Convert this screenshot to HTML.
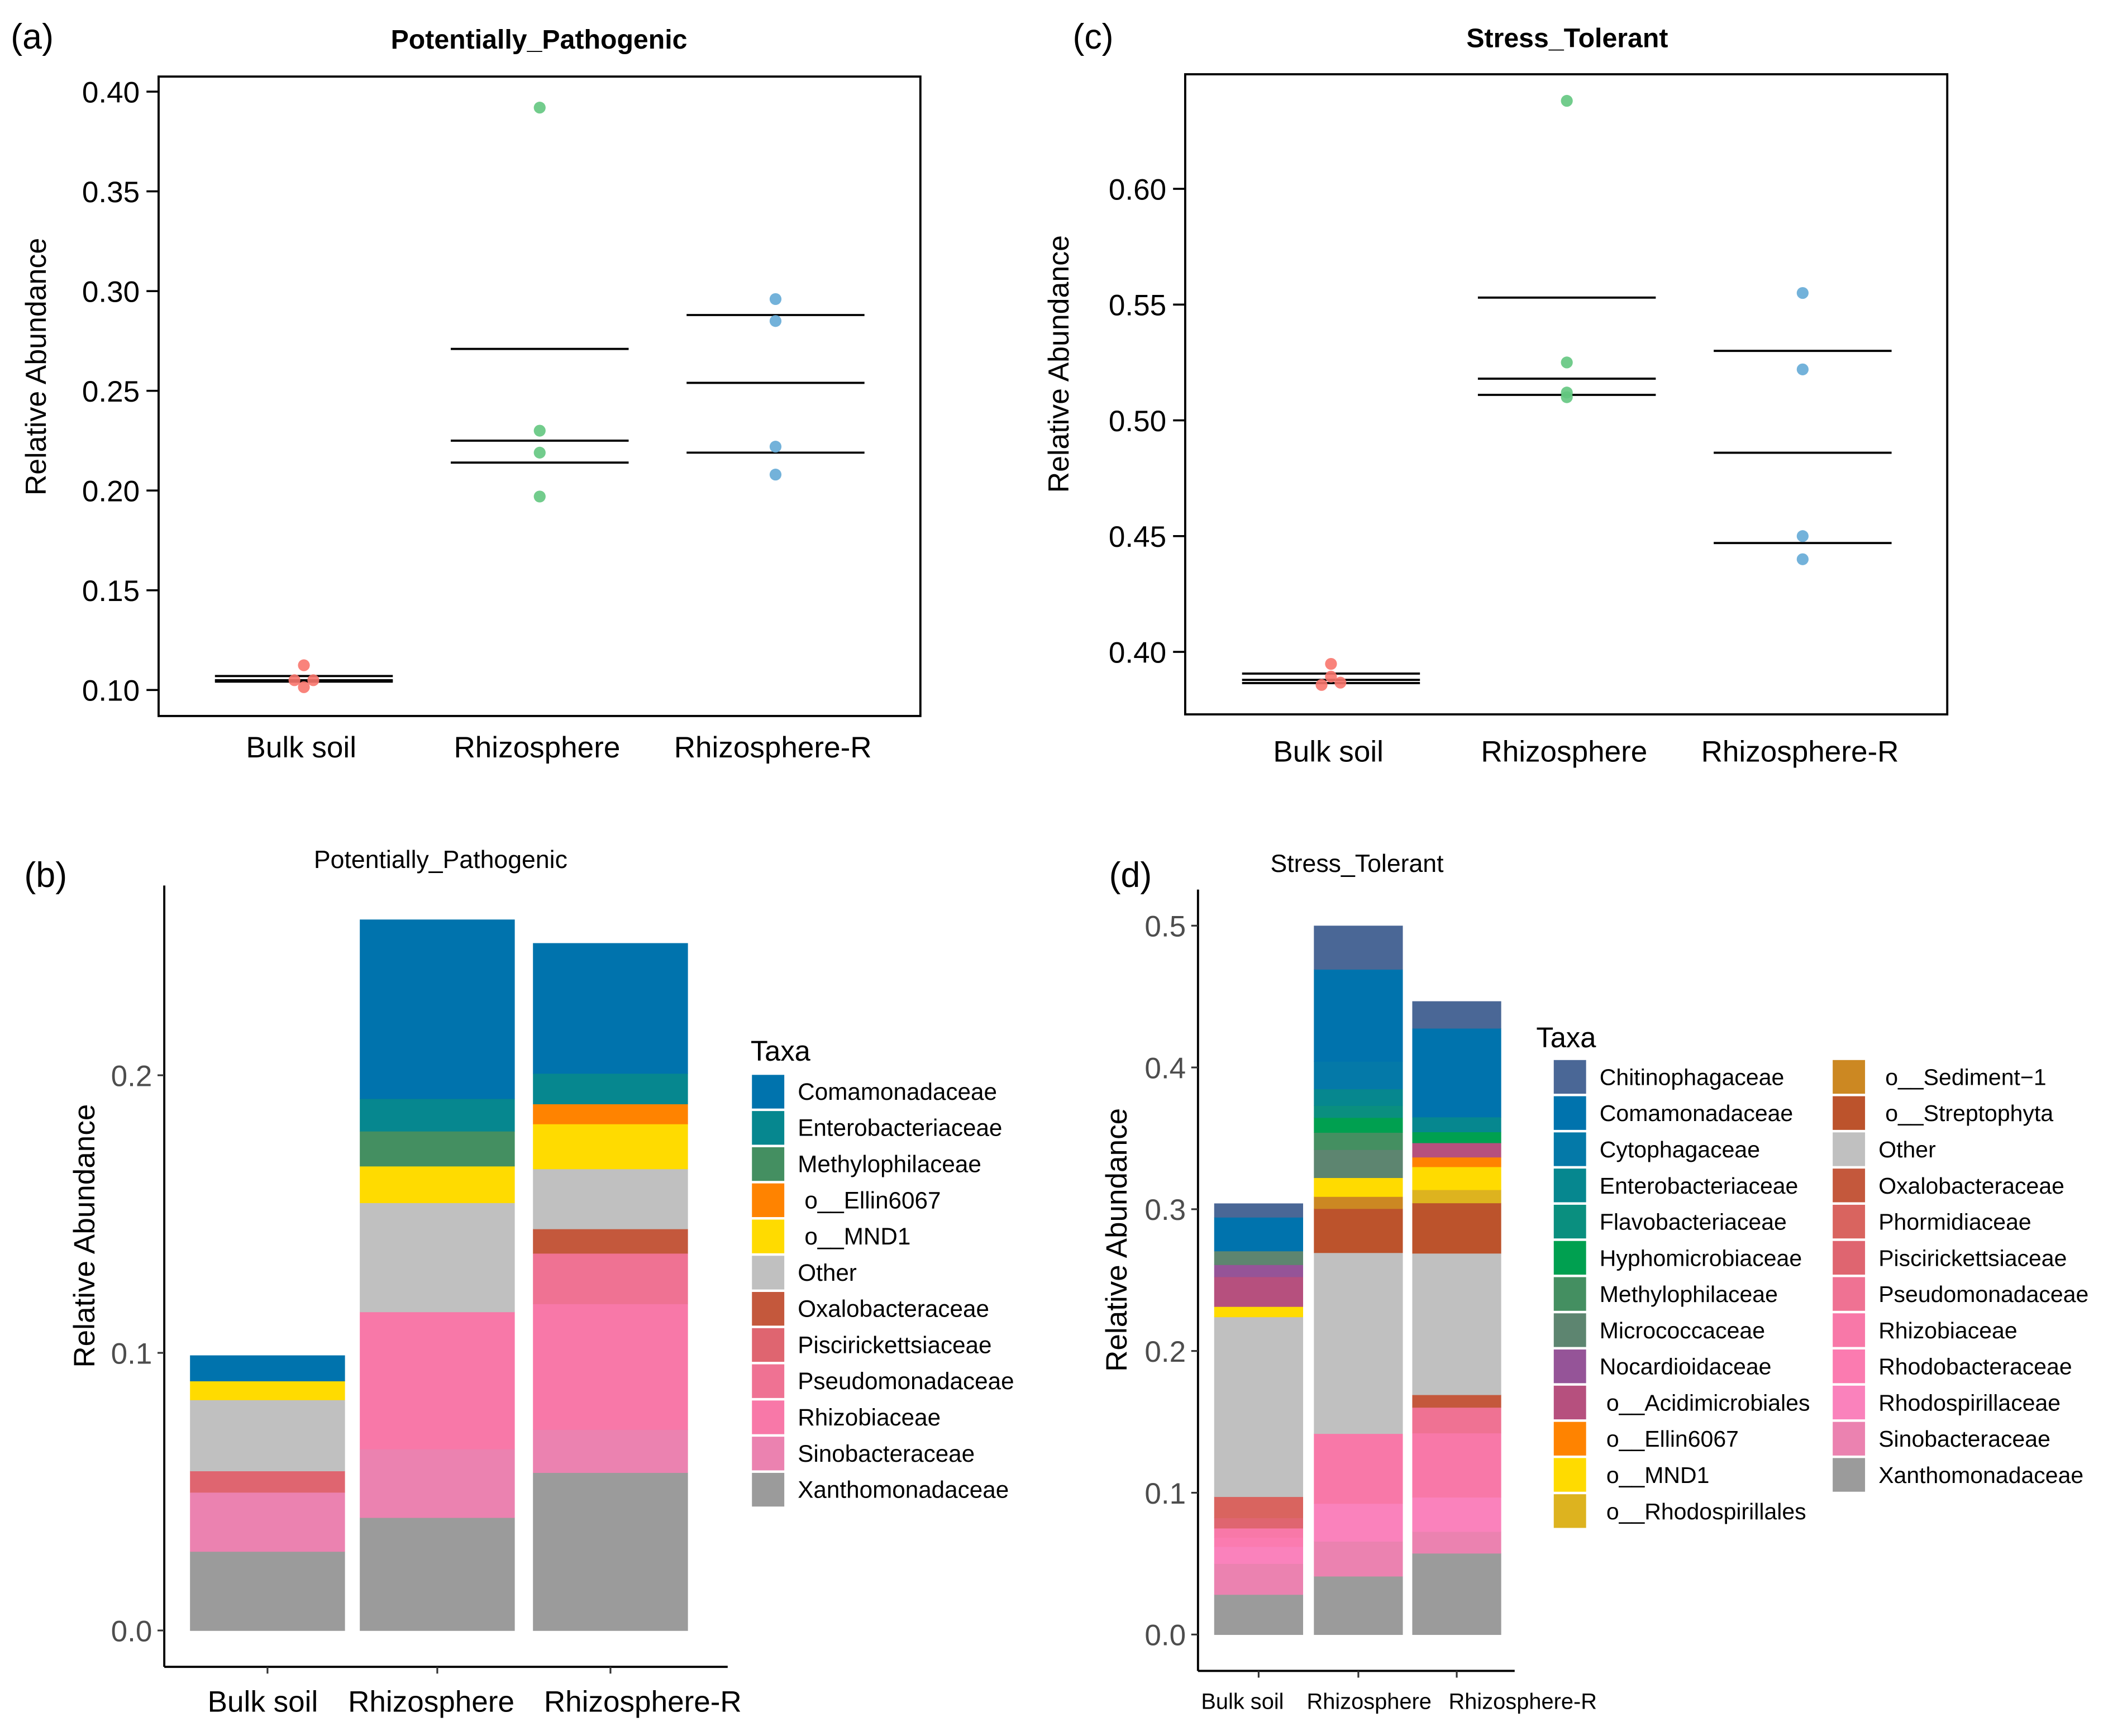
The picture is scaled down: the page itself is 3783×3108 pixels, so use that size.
<!DOCTYPE html>
<html><head><meta charset="utf-8"><style>
html,body{margin:0;padding:0;background:#fff}
svg{display:block}
text{font-family:"Liberation Sans",Arial,sans-serif}
</style></head><body>
<svg id="fig" width="3783" height="3108" viewBox="0 0 1568 1288" xmlns="http://www.w3.org/2000/svg">
<rect width="1568" height="1288" fill="#fff"/>
</svg>
<script>
// ---------- DATA ----------
const groups = ["Bulk soil", "Rhizosphere", "Rhizosphere-R"];
// Panel (a) Potentially_Pathogenic
const aTicks = [0.10, 0.15, 0.20, 0.25, 0.30, 0.35, 0.40];
const aTickLabels = ["0.10","0.15","0.20","0.25","0.30","0.35","0.40"];
const aBulkPts = [0.1124, 0.1049, 0.1049, 0.1014];
const aRhizoPts = [0.392, 0.230, 0.219, 0.197];
const aRhizoRPts = [0.296, 0.285, 0.222, 0.208];
const aBulkLines = [0.107, 0.1049, 0.1042];
const aRhizoLines = [0.271, 0.225, 0.214];
const aRhizoRLines = [0.288, 0.254, 0.219];
// Panel (c) Stress_Tolerant
const cTicks = [0.40, 0.45, 0.50, 0.55, 0.60];
const cTickLabels = ["0.40","0.45","0.50","0.55","0.60"];
const cBulkPts = [0.3948, 0.3893, 0.3857, 0.3867];
const cRhizoPts = [0.638, 0.525, 0.512, 0.510];
const cRhizoRPts = [0.555, 0.522, 0.450, 0.440];
const cBulkLines = [0.3906, 0.3879, 0.3865];
const cRhizoLines = [0.553, 0.518, 0.511];
const cRhizoRLines = [0.530, 0.486, 0.447];
// Panel (b) taxa (legend order) and values per group
const bTaxa = ["Comamonadaceae","Enterobacteriaceae","Methylophilaceae","o__Ellin6067","o__MND1","Other","Oxalobacteraceae","Piscirickettsiaceae","Pseudomonadaceae","Rhizobiaceae","Sinobacteraceae","Xanthomonadaceae"];
const bBulk =   [0.0092,0,0,0,0.0068,0.0256,0,0.0077,0,0,0.0213,0.0285];
const bRhizo =  [0.0645,0.0117,0.0126,0,0.0132,0.0393,0,0,0,0.0494,0.0247,0.0407];
const bRhizoR = [0.0469,0.011,0,0.0072,0.0162,0.0216,0.0088,0,0.0182,0.0453,0.0155,0.0569];
const bTicks = [0.0, 0.1, 0.2];
const bTickLabels = ["0.0","0.1","0.2"];
// Panel (d)
const dTaxa = ["Chitinophagaceae","Comamonadaceae","Cytophagaceae","Enterobacteriaceae","Flavobacteriaceae","Hyphomicrobiaceae","Methylophilaceae","Micrococcaceae","Nocardioidaceae","o__Acidimicrobiales","o__Ellin6067","o__MND1","o__Rhodospirillales","o__Sediment\u22121","o__Streptophyta","Other","Oxalobacteraceae","Phormidiaceae","Piscirickettsiaceae","Pseudomonadaceae","Rhizobiaceae","Rhodobacteraceae","Rhodospirillaceae","Sinobacteraceae","Xanthomonadaceae"];
const dBulk =   [0.0097,0.0238,0,0,0,0,0,0.0097,0.0085,0.021,0,0.0073,0,0,0,0.1268,0,0.0149,0.0073,0,0.0065,0.0065,0.012,0.0218,0.0283];
const dRhizo =  [0.0307,0.065,0.0194,0.0117,0.0085,0.0105,0.0121,0.0198,0,0,0,0.0133,0,0.0085,0.0311,0.1276,0,0,0,0,0.0493,0,0.0267,0.0246,0.0412];
const dRhizoR = [0.019,0.0626,0,0.0105,0,0.0077,0,0,0,0.0101,0.0068,0.0162,0.0093,0,0.0355,0.0998,0.0089,0,0,0.0181,0.0453,0,0.0242,0.0153,0.0574];
const dTicks = [0.0,0.1,0.2,0.3,0.4,0.5];
const dTickLabels = ["0.0","0.1","0.2","0.3","0.4","0.5"];

// ---------- STYLE ----------
const colorMap = {
 "Chitinophagaceae":"#4a6796","Comamonadaceae":"#0073ad","Cytophagaceae":"#0479a8","Enterobacteriaceae":"#06878f",
 "Flavobacteriaceae":"#0a8f7f","Hyphomicrobiaceae":"#00a050","Methylophilaceae":"#448f61","Micrococcaceae":"#5d8570",
 "Nocardioidaceae":"#955498","o__Acidimicrobiales":"#b6507e","o__Ellin6067":"#ff8300","o__MND1":"#ffdb00",
 "o__Rhodospirillales":"#ddb31f","o__Sediment\u22121":"#cc8822","o__Streptophyta":"#bc532c","Other":"#c0c0c0",
 "Oxalobacteraceae":"#c4583c","Phormidiaceae":"#d9645f","Piscirickettsiaceae":"#df6570","Pseudomonadaceae":"#ef7293",
 "Rhizobiaceae":"#f878a8","Rhodobacteraceae":"#fb7bb0","Rhodospirillaceae":"#fa82bc","Sinobacteraceae":"#eb82b0",
 "Xanthomonadaceae":"#9b9b9b"};
const dotColors = ["#f8766d","#63c780","#64aad6"];
const NS = "http://www.w3.org/2000/svg";
const svg = document.getElementById("fig");
function mk(tag, attrs, parent, txt){
  const e = document.createElementNS(NS, tag);
  for (const k in attrs) e.setAttribute(k, attrs[k]);
  if (txt !== undefined) e.textContent = txt;
  (parent||svg).appendChild(e);
  return e;
}
function grp(name){ const g = mk("g", {});   return g; }

// ---------- DOT PANELS ----------
function dotPanel(o){
  const g = grp(o.name);
  const yS = v => o.y0 + (v - o.v0) * o.k;
  const xS = i => o.xc0 + i * o.dx;
  const lab = mk("text",{x:o.labX,y:o.labY,"font-size":26},g,o.letter);
   
  const t = mk("text",{x:o.titleX,y:o.titleY,"font-size":20,"font-weight":"bold","text-anchor":"middle"},g,o.title);
   
  const fr = mk("rect",{x:o.fx0,y:o.fy0,width:o.fx1-o.fx0,height:o.fy1-o.fy0,fill:"none",stroke:"#000","stroke-width":1.6},g);
   
  o.ticks.forEach((v,i)=>{
    const y = yS(v);
    const tk = mk("line",{x1:o.fx0-9,x2:o.fx0,y1:y,y2:y,stroke:"#000","stroke-width":1.5},g);
     
    const tl = mk("text",{x:o.fx0-14,y:y+8,"font-size":22,"text-anchor":"end"},g,o.tickLabels[i]);
     
  });
  const yt = mk("text",{transform:`translate(${o.ytX},${o.ytY}) rotate(-90)`,"font-size":21.5,"text-anchor":"middle"},g,"Relative Abundance");
   
  groups.forEach((gn,i)=>{
    const xl = mk("text",{x:xS(i)-2,y:o.xlY,"font-size":22,"text-anchor":"middle"},g,gn);
     
    o.lines[i].forEach(v=>{
      const l = mk("line",{x1:xS(i)-66,x2:xS(i)+66,y1:yS(v),y2:yS(v),stroke:"#000","stroke-width":1.6},g);
       
    });
    const n = o.pts[i].length;
    o.pts[i].forEach((v,j)=>{
      let off = 0;
      for (let m=0;m<n;m++){ if (m!==j && Math.abs(o.pts[i][m]-v) < o.jit){ off = (j<m? -7 : 7); } }
      const c = mk("circle",{cx:xS(i)+off,cy:yS(v),r:4.4,fill:dotColors[i],"fill-opacity":0.9},g);
       
    });
  });
}
dotPanel({name:"panel-a",letter:"(a)",labX:8,labY:36,title:"Potentially_Pathogenic",titleX:400,titleY:36,
  fx0:117.7,fx1:683,fy0:56.7,fy1:531.2,y0:511.9,v0:0.10,k:-1480,xc0:225.5,dx:175,
  ticks:aTicks,tickLabels:aTickLabels,ytX:34,ytY:272,xlY:562,jit:0.002,
  pts:[aBulkPts,aRhizoPts,aRhizoRPts],lines:[aBulkLines,aRhizoLines,aRhizoRLines]});
dotPanel({name:"panel-c",letter:"(c)",labX:796,labY:36,title:"Stress_Tolerant",titleX:1163,titleY:35,
  fx0:879.5,fx1:1445,fy0:55,fy1:530,y0:483.6,v0:0.40,k:-1718,xc0:987.7,dx:175,
  ticks:cTicks,tickLabels:cTickLabels,ytX:793,ytY:270,xlY:565,jit:0.0015,
  pts:[cBulkPts,cRhizoPts,cRhizoRPts],lines:[cBulkLines,cRhizoLines,cRhizoRLines]});

// ---------- BAR PANELS ----------
function barPanel(o){
  const g = grp(o.name);
  const yS = v => o.y0 - v * o.k;
  const lab = mk("text",{x:o.labX,y:o.labY,"font-size":26},g,o.letter);
   
  const t = mk("text",{x:o.titleX,y:o.titleY,"font-size":18.5,"text-anchor":"middle"},g,o.title);
   
  o.series.forEach((vals,i)=>{
    let cum = 0;
    const cx = o.xc[i];
    for (let k = o.taxa.length-1; k>=0; k--){
      const v = vals[k];
      if (v <= 0) continue;
      const r = mk("rect",{x:cx-o.bw/2,y:yS(cum+v),width:o.bw,height:yS(cum)-yS(cum+v)+0.3,fill:colorMap[o.taxa[k]]},g);
       
      cum += v;
    }
  });
  const ya = mk("line",{x1:o.ax,x2:o.ax,y1:o.axTop,y2:o.axBot,stroke:"#000","stroke-width":1.6},g);
   
  const xa = mk("line",{x1:o.ax,x2:o.axRight,y1:o.axBot,y2:o.axBot,stroke:"#000","stroke-width":1.6},g);
   
  o.ticks.forEach((v,i)=>{
    const y = yS(v);
    const tk = mk("line",{x1:o.ax-5,x2:o.ax,y1:y,y2:y,stroke:"#333","stroke-width":1.3},g);
     
    const tl = mk("text",{x:o.ax-9,y:y+8,"font-size":22,fill:"#4d4d4d","text-anchor":"end"},g,o.tickLabels[i]);
     
  });
  groups.forEach((gn,i)=>{
    const tk = mk("line",{x1:o.xc[i],x2:o.xc[i],y1:o.axBot,y2:o.axBot+5,stroke:"#333","stroke-width":1.3},g);
     
    const xl = mk("text",{x:o.xlx[i],y:o.xlY,"font-size":o.xlFs,"text-anchor":"middle"},g,gn);
     
  });
  const yt = mk("text",{transform:`translate(${o.ytX},${o.ytY}) rotate(-90)`,"font-size":22,"text-anchor":"middle"},g,"Relative Abundance");
   
  const lg = mk("g",{},g);
   
  const tt = mk("text",{x:o.legTitleX,y:o.legTitleY,"font-size":21},lg,"Taxa");
   
  o.taxa.forEach((name,k)=>{
    const col = Math.floor(k / o.perCol), row = k % o.perCol;
    const kx = o.legX + col*o.colW, ky = o.leg0 + row*o.legDy;
    const sw = mk("rect",{x:kx,y:ky-12.5,width:24,height:25,fill:colorMap[name]},lg);
     
    const ind = name.startsWith("o__") ? 5 : 0;
    const tx = mk("text",{x:kx+34+ind,y:ky+6,"font-size":o.legFs},lg,name);
     
  });
}
barPanel({name:"panel-b",letter:"(b)",labX:18,labY:658,title:"Potentially_Pathogenic",titleX:327,titleY:644,
  taxa:bTaxa,series:[bBulk,bRhizo,bRhizoR],y0:1209.8,k:2060,bw:115,xc:[198.5,324.5,453],
  ax:121.9,axTop:657,axBot:1236.8,axRight:540,ticks:bTicks,tickLabels:bTickLabels,
  xlx:[195,320,477],xlY:1270,xlFs:22,ytX:70,ytY:917,
  legX:558,legTitleX:557,legTitleY:787,leg0:810,legDy:26.85,perCol:12,colW:200,legFs:17.5});
barPanel({name:"panel-d",letter:"(d)",labX:823,labY:658,title:"Stress_Tolerant",titleX:1007,titleY:647,
  taxa:dTaxa,series:[dBulk,dRhizo,dRhizoR],y0:1212.8,k:1052,bw:66,xc:[934,1008,1081],
  ax:889,axTop:660,axBot:1239.8,axRight:1124,ticks:dTicks,tickLabels:dTickLabels,
  xlx:[922,1016,1130],xlY:1268,xlFs:16.5,ytX:836,ytY:920,
  legX:1153,legTitleX:1140,legTitleY:777,leg0:799,legDy:26.85,perCol:13,colW:207,legFs:17});
</script>
</body></html>
